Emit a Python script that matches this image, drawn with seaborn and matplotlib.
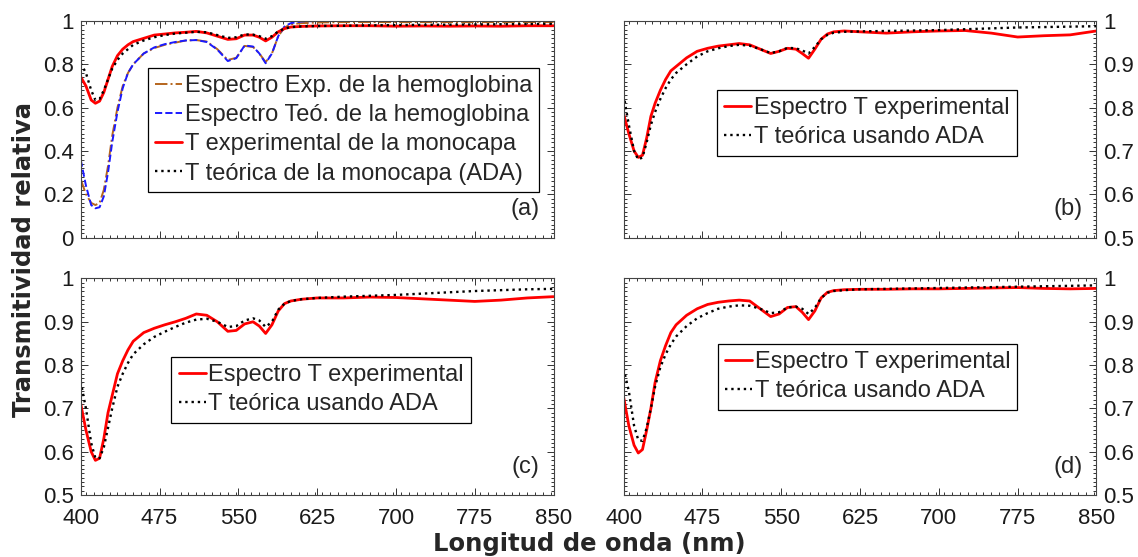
import numpy as np
import pandas as pd
import matplotlib
matplotlib.use('Agg')
import matplotlib.pyplot as plt
from matplotlib.ticker import MultipleLocator, FuncFormatter
import seaborn as sns

# longitudes de onda (nm) donde se leyeron los valores
wl = [400, 405, 410, 414, 418, 422, 426, 430, 435, 440, 445, 450, 460, 470, 480, 490, 500, 510, 520, 530,
      540, 548, 556, 564, 570, 576, 582, 588, 594, 600, 610, 625, 650, 675, 700, 725, 750, 775, 800, 825, 850]

# (a) hemoglobina y monocapa
a_hb_exp = [0.27, 0.20, 0.16, 0.15, 0.16, 0.22, 0.33, 0.47, 0.60, 0.70, 0.76, 0.80, 0.85, 0.875, 0.89, 0.90, 0.91, 0.912, 0.905, 0.87,
            0.82, 0.83, 0.885, 0.88, 0.85, 0.81, 0.85, 0.93, 0.97, 0.985, 0.99, 0.993, 0.995, 0.995, 0.995, 0.995, 0.995, 0.995, 0.995, 0.995, 0.995]
a_hb_teo = [0.36, 0.24, 0.15, 0.135, 0.14, 0.19, 0.30, 0.44, 0.58, 0.69, 0.76, 0.80, 0.85, 0.878, 0.893, 0.903, 0.91, 0.912, 0.903, 0.868,
            0.815, 0.828, 0.887, 0.882, 0.85, 0.805, 0.85, 0.93, 0.975, 0.99, 0.998, 1.0, 1.0, 1.0, 1.0, 1.0, 1.0, 1.0, 1.0, 1.0, 1.0]
a_exp = [0.742, 0.70, 0.635, 0.62, 0.63, 0.67, 0.73, 0.79, 0.84, 0.87, 0.89, 0.905, 0.92, 0.935, 0.94, 0.945, 0.948, 0.952, 0.945, 0.93,
         0.915, 0.918, 0.935, 0.935, 0.925, 0.908, 0.925, 0.95, 0.965, 0.972, 0.975, 0.977, 0.978, 0.978, 0.976, 0.977, 0.976, 0.977, 0.976, 0.978, 0.978]
a_ada = [0.805, 0.76, 0.68, 0.635, 0.64, 0.68, 0.73, 0.78, 0.82, 0.85, 0.87, 0.89, 0.91, 0.925, 0.935, 0.942, 0.946, 0.95, 0.948, 0.935,
         0.922, 0.925, 0.938, 0.937, 0.93, 0.918, 0.93, 0.952, 0.965, 0.972, 0.975, 0.977, 0.978, 0.98, 0.981, 0.982, 0.983, 0.984, 0.985, 0.986, 0.987]

# (b)
b_exp = [0.786, 0.74, 0.70, 0.685, 0.69, 0.73, 0.78, 0.81, 0.84, 0.865, 0.885, 0.895, 0.915, 0.93, 0.937, 0.942, 0.945, 0.948, 0.945, 0.935,
         0.925, 0.93, 0.937, 0.935, 0.925, 0.914, 0.935, 0.958, 0.97, 0.975, 0.977, 0.975, 0.972, 0.975, 0.977, 0.978, 0.972, 0.963, 0.966, 0.968, 0.977]
b_ada = [0.83, 0.76, 0.70, 0.68, 0.685, 0.72, 0.76, 0.79, 0.82, 0.845, 0.865, 0.88, 0.90, 0.918, 0.93, 0.937, 0.942, 0.945, 0.943, 0.935,
         0.926, 0.93, 0.938, 0.937, 0.932, 0.925, 0.94, 0.958, 0.968, 0.973, 0.975, 0.976, 0.977, 0.978, 0.979, 0.981, 0.983, 0.985, 0.986, 0.987, 0.988]

# (c)
c_exp = [0.711, 0.65, 0.60, 0.58, 0.585, 0.63, 0.69, 0.73, 0.78, 0.81, 0.835, 0.855, 0.875, 0.885, 0.893, 0.90, 0.908, 0.918, 0.915, 0.90,
         0.878, 0.88, 0.895, 0.90, 0.89, 0.873, 0.893, 0.925, 0.942, 0.948, 0.952, 0.955, 0.955, 0.957, 0.956, 0.953, 0.95, 0.947, 0.95, 0.955, 0.958]
c_ada = [0.762, 0.70, 0.62, 0.585, 0.585, 0.61, 0.655, 0.70, 0.75, 0.78, 0.805, 0.825, 0.848, 0.865, 0.877, 0.888, 0.898, 0.905, 0.907, 0.90,
         0.888, 0.89, 0.903, 0.908, 0.903, 0.888, 0.90, 0.928, 0.942, 0.948, 0.952, 0.955, 0.958, 0.96, 0.962, 0.965, 0.968, 0.971, 0.973, 0.975, 0.976]

# (d)
d_exp = [0.727, 0.66, 0.615, 0.597, 0.605, 0.65, 0.70, 0.76, 0.81, 0.845, 0.875, 0.893, 0.915, 0.93, 0.94, 0.945, 0.948, 0.95, 0.948, 0.93,
         0.912, 0.918, 0.933, 0.935, 0.922, 0.905, 0.925, 0.955, 0.968, 0.972, 0.974, 0.975, 0.975, 0.976, 0.976, 0.977, 0.978, 0.979, 0.977, 0.976, 0.977]
d_ada = [0.792, 0.74, 0.66, 0.627, 0.625, 0.655, 0.70, 0.75, 0.795, 0.825, 0.848, 0.866, 0.89, 0.908, 0.92, 0.93, 0.935, 0.938, 0.937, 0.93,
         0.92, 0.922, 0.933, 0.935, 0.93, 0.918, 0.932, 0.955, 0.967, 0.971, 0.973, 0.975, 0.976, 0.977, 0.978, 0.979, 0.98, 0.981, 0.982, 0.983, 0.984]

leg_a = ['Espectro Exp. de la hemoglobina', 'Espectro Teó. de la hemoglobina',
         'T experimental de la monocapa', 'T teórica de la monocapa (ADA)']
leg_bcd = ['Espectro T experimental', 'T teórica usando ADA']
panel_labels = ['(a)', '(b)', '(c)', '(d)']
xticks = [400, 475, 550, 625, 700, 775, 850]

sns.set_theme(style='ticks')
plt.rcParams['font.family'] = ['Liberation Sans', 'DejaVu Sans']

fig, axs = plt.subplots(2, 2, figsize=(11.38, 5.57), dpi=100)
fig.subplots_adjust(left=0.0709, right=0.9635, top=0.9623, bottom=0.1113, wspace=0.148, hspace=0.189)

rojo = '#ff0000'
ax = axs[0, 0]
sns.lineplot(x=wl, y=a_hb_exp, ax=ax, color='#b5651d', linestyle='-.', lw=1.4, label=leg_a[0], estimator=None, sort=False)
sns.lineplot(x=wl, y=a_hb_teo, ax=ax, color='#1a1aff', linestyle='--', lw=1.4, label=leg_a[1], estimator=None, sort=False)
sns.lineplot(x=wl, y=a_exp, ax=ax, color=rojo, linestyle='-', lw=2.0, label=leg_a[2], estimator=None, sort=False)
sns.lineplot(x=wl, y=a_ada, ax=ax, color='black', linestyle=':', lw=1.7, label=leg_a[3], estimator=None, sort=False)

otros = [(axs[0, 1], b_exp, b_ada), (axs[1, 0], c_exp, c_ada), (axs[1, 1], d_exp, d_ada)]
for ax, exp, ada in otros:
    sns.lineplot(x=wl, y=exp, ax=ax, color=rojo, linestyle='-', lw=2.0, label=leg_bcd[0], estimator=None, sort=False)
    sns.lineplot(x=wl, y=ada, ax=ax, color='black', linestyle=':', lw=1.7, label=leg_bcd[1], estimator=None, sort=False)

fmt = FuncFormatter(lambda v, p: '%g' % round(v, 2))
leg_pos = [(0.1425, 0.782), (0.198, 0.68), (0.192, 0.636), (0.2, 0.696)]

for i, ax in enumerate(axs.flat):
    ax.set_xlim(400, 850)
    if i == 0:
        ax.set_ylim(0, 1)
        ax.yaxis.set_major_locator(MultipleLocator(0.2))
        ax.yaxis.set_minor_locator(MultipleLocator(0.02))
    else:
        ax.set_ylim(0.5, 1)
        ax.yaxis.set_major_locator(MultipleLocator(0.1))
        ax.yaxis.set_minor_locator(MultipleLocator(0.01))
    ax.set_xticks(xticks)
    ax.xaxis.set_minor_locator(MultipleLocator(7.5))
    ax.yaxis.set_major_formatter(fmt)
    ax.set_xlabel('')
    ax.set_ylabel('')
    der = (i % 2 == 1)
    ax.tick_params(which='both', direction='in', top=True, bottom=True, left=True, right=True,
                   labelleft=not der, labelright=der, labelbottom=(i >= 2),
                   colors='#333333', labelcolor='#1a1a1a', labelsize=16, width=0.7)
    ax.tick_params(axis='y', pad=5)
    ax.tick_params(axis='x', pad=9)
    ax.tick_params(which='major', length=5)
    ax.tick_params(which='minor', length=2.5)
    for s in ax.spines.values():
        s.set_visible(True)
        s.set_color('#444444')
        s.set_linewidth(0.8)
    leg = ax.legend(loc='upper left', bbox_to_anchor=leg_pos[i], fontsize=17, handlelength=1.15,
                    handletextpad=0.1, borderpad=0.3, labelspacing=0.3, borderaxespad=0,
                    fancybox=False, framealpha=1, edgecolor='black')
    leg.get_frame().set_linewidth(0.9)
    ax.text(0.97, 0.13, panel_labels[i], transform=ax.transAxes, ha='right', va='center', fontsize=17)

fig.text(0.021, 0.535, 'Transmitividad relativa', rotation=90, ha='center', va='center',
         fontsize=17.5, fontweight='bold', family='DejaVu Sans')
fig.text(0.518, 0.024, 'Longitud de onda (nm)', ha='center', va='center', fontsize=17.5,
         fontweight='bold', family='DejaVu Sans')

plt.savefig('out.png', dpi=100)
